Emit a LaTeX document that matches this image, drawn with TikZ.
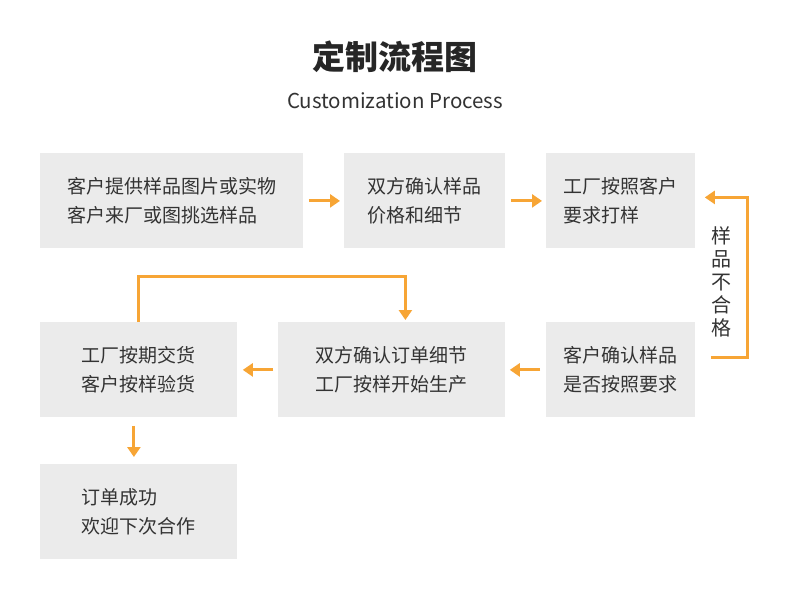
\documentclass[tikz,border=0pt]{standalone}
\usepackage{fontspec}
\setmainfont{Noto Sans CJK SC}
\usetikzlibrary{arrows.meta}
\definecolor{boxgray}{HTML}{EBEBEB}
\definecolor{flow}{HTML}{F7A535}
\definecolor{ink}{HTML}{333333}

\begin{document}
\begin{tikzpicture}[x=1pt,y=-1pt,thick,
    main/.style={fill=boxgray,anchor=north west,inner sep=0pt,align=left,text=ink,minimum height=95pt,font=\fontsize{19}{29}\selectfont},
    go/.style={draw=flow,line width=3pt,-{Triangle[length=10pt,width=13pt]}}]
				\fill[white] (0,0) rectangle (790,602);
				\useasboundingbox (0,0) rectangle (790,602);
				% title
				\node[font=\fontsize{33}{33}\selectfont\bfseries,text=black!85] (title) at (395,57) {定制流程图};
				\node[font=\fontsize{20.5}{20}\selectfont,text=ink] (sub) at (395,101) {Customization Process};
				% first row
				\node[main,minimum width=263pt] (A) at (40,153) {客户提供样品图片或实物\\客户来厂或图挑选样品};
				\node[main,minimum width=161pt] (B) at (344,153) {双方确认样品\\价格和细节};
				\node[main,minimum width=149pt] (C) at (546,153) {工厂按照客户\\要求打样};
				% second row
				\node[main,minimum width=197pt] (D) at (40,322) {工厂按期交货\\客户按样验货};
				\node[main,minimum width=227pt] (E) at (278,322) {双方确认订单细节\\工厂按样开始生产};
				\node[main,minimum width=149pt] (F) at (546,322) {客户确认样品\\是否按照要求};
				% last
				\node[main,minimum width=197pt] (G) at (40,464) {订单成功\\欢迎下次合作};
				\node[text=ink,align=center,font=\fontsize{20}{23}\selectfont] (no) at (721,282) {样\\品\\不\\合\\格};
				\draw[go] ([xshift=5pt]A.east) -- ([xshift=-4pt]B.west);
				\draw[go] ([xshift=5pt]B.east) -- ([xshift=-4pt]C.west);
				\draw[go] ([xshift=-6pt]F.west) -- ([xshift=4pt]E.east);
				\draw[go] ([xshift=-5pt]E.west) -- ([xshift=5pt]D.east);
				\draw[go] ([xshift=-5pt,yshift=-8pt]D.south) -- ([xshift=-5pt,yshift=7pt]G.north);
				\draw[go] ([xshift=15pt,yshift=12.5pt]F.east) -- ++(37,0) |- ([xshift=9pt,yshift=3.5pt]C.east);
				\draw[go] (D.north) -- ++(0,-46) -| ([xshift=13.5pt,yshift=2pt]E.north);
			\end{tikzpicture}
\end{document}
